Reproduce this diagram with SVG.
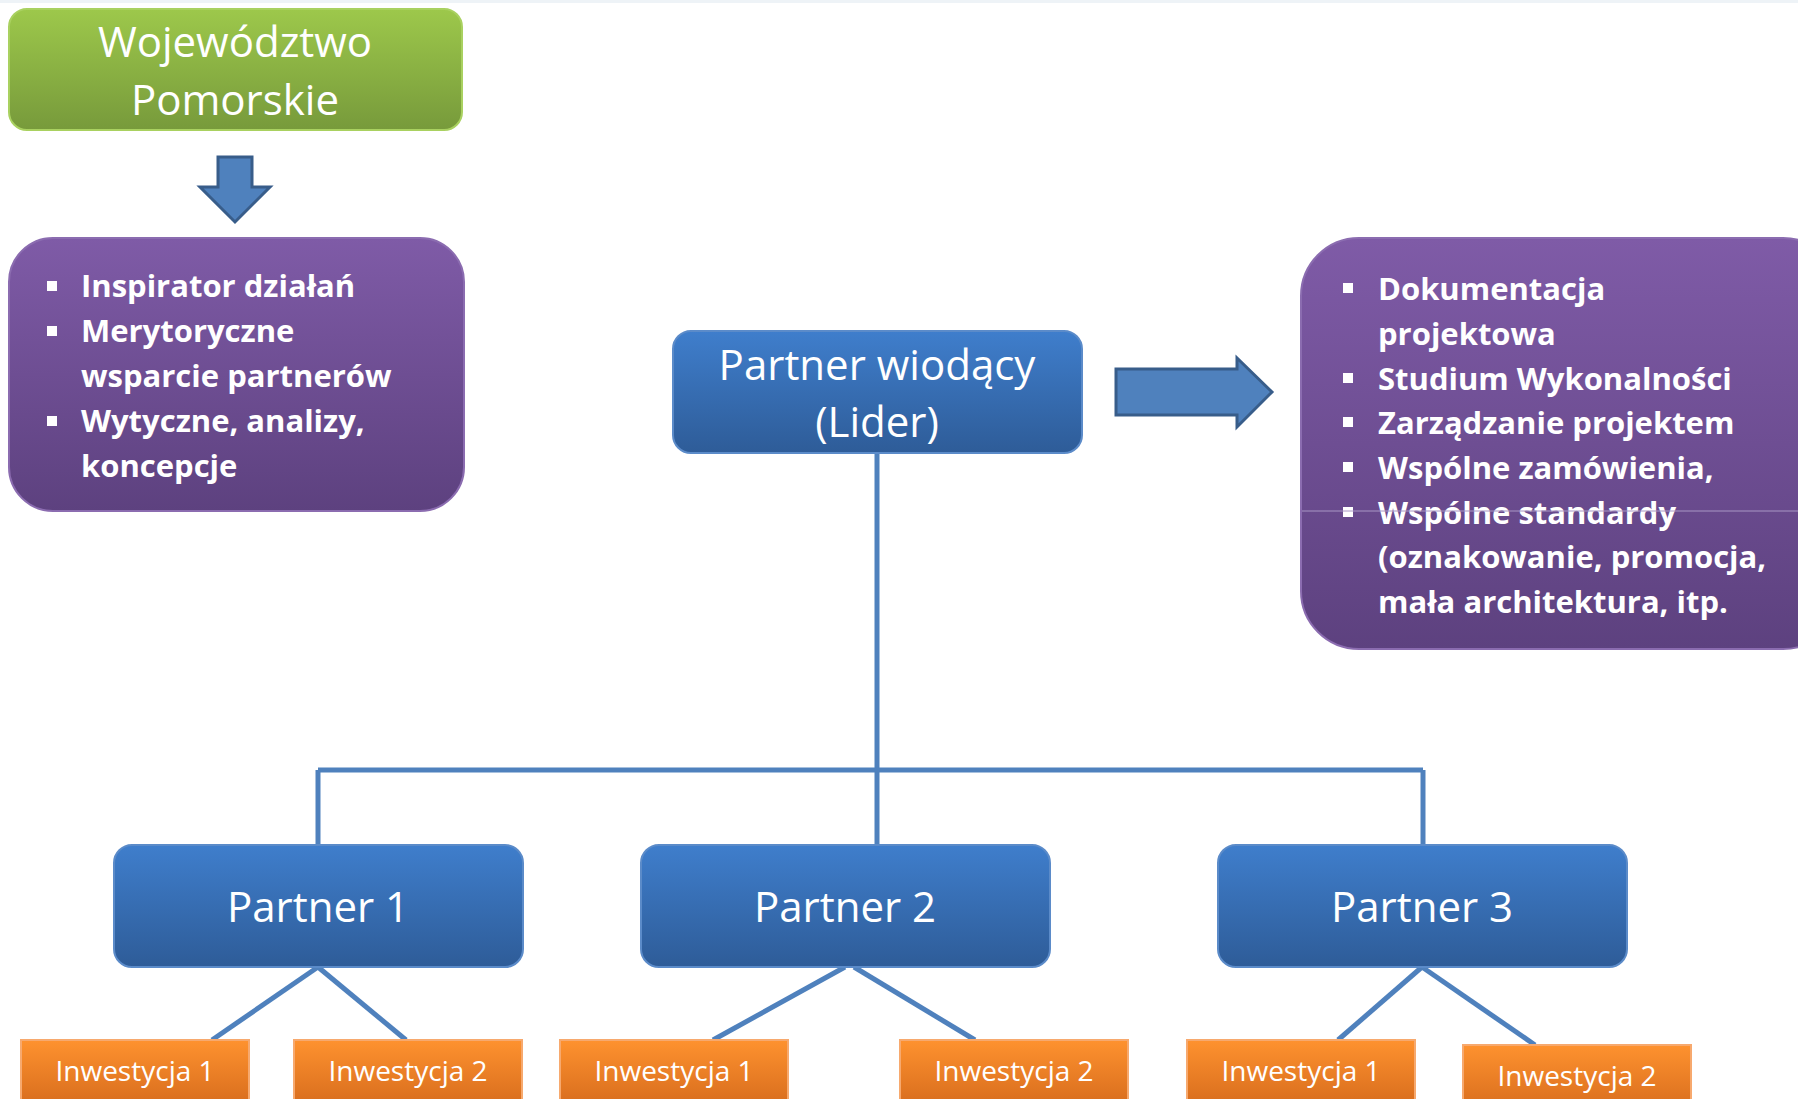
<svg xmlns="http://www.w3.org/2000/svg" width="1798" height="1099" viewBox="0 0 1798 1099">
<defs>
<linearGradient id="gGreen" x1="0" y1="0" x2="0" y2="1"><stop offset="0" stop-color="#9DC84B"/><stop offset="1" stop-color="#779A3B"/></linearGradient>
<linearGradient id="gPurple" x1="0" y1="0" x2="0" y2="1"><stop offset="0" stop-color="#7F5BA7"/><stop offset="1" stop-color="#5D417F"/></linearGradient>
<linearGradient id="gBlue" x1="0" y1="0" x2="0" y2="1"><stop offset="0" stop-color="#3F7ECC"/><stop offset="1" stop-color="#2E5C98"/></linearGradient>
<linearGradient id="gOrange" x1="0" y1="0" x2="0" y2="1"><stop offset="0" stop-color="#FE922F"/><stop offset="1" stop-color="#D56A1C"/></linearGradient>
<style>
.green{fill:url(#gGreen);stroke:#A9D160;stroke-width:2}
.purple{fill:url(#gPurple);stroke:#8B6CB0;stroke-width:2}
.blue{fill:url(#gBlue);stroke:#5B8BC9;stroke-width:2}
.orange{fill:url(#gOrange);stroke:#F7A96E;stroke-width:2}
.arrow{fill:#4F81BD;stroke:#385D8A;stroke-width:3}
.conn{stroke:#4F81BD;stroke-width:5;fill:none}
.t{font-family:"Open Sans","Liberation Sans",sans-serif;fill:#FFFFFF}
.big{font-size:42px;text-anchor:middle}
.small{font-size:28px;text-anchor:middle}
.bold{font-size:31px;font-weight:700}
.bul{fill:#FFFFFF}
</style>
</defs>
<rect x="0" y="0" width="1798" height="1099" fill="#FFFFFF"/>
<rect x="0" y="0" width="1798" height="3" fill="#EEF3F7"/>

<g id="connectors">
<line class="conn" x1="877" y1="453" x2="877" y2="845"/>
<line class="conn" x1="318" y1="770" x2="1423" y2="770"/>
<line class="conn" x1="318" y1="770" x2="318" y2="845" stroke-width="4"/>
<line class="conn" x1="1423" y1="770" x2="1423" y2="845" stroke-width="4"/>
<line class="conn" x1="318" y1="967" x2="212" y2="1040"/>
<line class="conn" x1="318" y1="967" x2="406" y2="1040"/>
<line class="conn" x1="845" y1="967" x2="713" y2="1040"/>
<line class="conn" x1="854" y1="967" x2="975" y2="1040"/>
<line class="conn" x1="1422" y1="967" x2="1338" y2="1040"/>
<line class="conn" x1="1422" y1="967" x2="1535" y2="1045"/>
</g>

<g id="wojewodztwo">
<rect class="green" x="9" y="9" width="453" height="121" rx="18"/>
<text class="t big" x="235" y="57">Województwo</text>
<text class="t big" x="235" y="115">Pomorskie</text>
</g>

<g id="arrow-down">
<path class="arrow" d="M218,157 L252,157 L252,187 L270,187 L235,222 L200,187 L218,187 Z"/>
</g>

<g id="rola-wojewodztwa">
<rect class="purple" x="9" y="238" width="455" height="273" rx="44"/>
<rect class="bul" x="47" y="281" width="10" height="10"/>
<text class="t bold" x="81" y="297">Inspirator działań</text>
<rect class="bul" x="47" y="326" width="10" height="10"/>
<text class="t bold" x="81" y="342">Merytoryczne</text>
<text class="t bold" x="81" y="387">wsparcie partnerów</text>
<rect class="bul" x="47" y="416" width="10" height="10"/>
<text class="t bold" x="81" y="432">Wytyczne, analizy,</text>
<text class="t bold" x="81" y="477">koncepcje</text>
</g>

<g id="partner-wiodacy">
<rect class="blue" x="673" y="331" width="409" height="122" rx="18"/>
<text class="t big" x="877" y="380">Partner wiodący</text>
<text class="t big" x="877" y="437">(Lider)</text>
</g>

<g id="arrow-right">
<path class="arrow" d="M1116,369 L1237,369 L1237,358 L1272,392 L1237,427 L1237,415 L1116,415 Z"/>
</g>

<g id="zadania-lidera">
<rect class="purple" x="1301" y="238" width="540" height="411" rx="58"/>
<rect class="bul" x="1343" y="283" width="10" height="10"/>
<text class="t bold" x="1378" y="300">Dokumentacja</text>
<text class="t bold" x="1378" y="345">projektowa</text>
<rect class="bul" x="1343" y="373" width="10" height="10"/>
<text class="t bold" x="1378" y="390">Studium Wykonalności</text>
<rect class="bul" x="1343" y="417" width="10" height="10"/>
<text class="t bold" x="1378" y="434">Zarządzanie projektem</text>
<rect class="bul" x="1343" y="462" width="10" height="10"/>
<text class="t bold" x="1378" y="479">Wspólne zamówienia,</text>
<rect class="bul" x="1343" y="507" width="10" height="10"/>
<text class="t bold" x="1378" y="524">Wspólne standardy</text>
<text class="t bold" x="1378" y="568">(oznakowanie, promocja,</text>
<text class="t bold" x="1378" y="613">mała architektura, itp.</text>
<line x1="1302" y1="511" x2="1798" y2="511" stroke="#A896C4" stroke-width="1"/>
</g>

<g id="partner-1">
<rect class="blue" x="114" y="845" width="409" height="122" rx="18"/>
<text class="t big" x="318" y="922">Partner 1</text>
</g>
<g id="partner-2">
<rect class="blue" x="641" y="845" width="409" height="122" rx="18"/>
<text class="t big" x="845" y="922">Partner 2</text>
</g>
<g id="partner-3">
<rect class="blue" x="1218" y="845" width="409" height="122" rx="18"/>
<text class="t big" x="1422" y="922">Partner 3</text>
</g>

<g id="p1-inwestycja-1">
<rect class="orange" x="21" y="1040" width="228" height="70"/>
<text class="t small" x="135" y="1081">Inwestycja 1</text>
</g>
<g id="p1-inwestycja-2">
<rect class="orange" x="294" y="1040" width="228" height="70"/>
<text class="t small" x="408" y="1081">Inwestycja 2</text>
</g>
<g id="p2-inwestycja-1">
<rect class="orange" x="560" y="1040" width="228" height="70"/>
<text class="t small" x="674" y="1081">Inwestycja 1</text>
</g>
<g id="p2-inwestycja-2">
<rect class="orange" x="900" y="1040" width="228" height="70"/>
<text class="t small" x="1014" y="1081">Inwestycja 2</text>
</g>
<g id="p3-inwestycja-1">
<rect class="orange" x="1187" y="1040" width="228" height="70"/>
<text class="t small" x="1301" y="1081">Inwestycja 1</text>
</g>
<g id="p3-inwestycja-2">
<rect class="orange" x="1463" y="1045" width="228" height="70"/>
<text class="t small" x="1577" y="1086">Inwestycja 2</text>
</g>
</svg>
